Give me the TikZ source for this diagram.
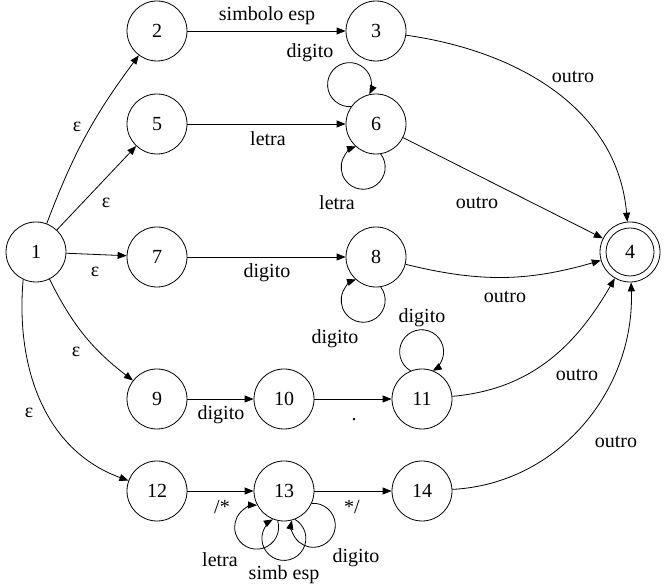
\documentclass[tikz,border=0pt]{standalone}
\usepackage{fontspec}
\setmainfont{Liberation Serif}
\usetikzlibrary{arrows.meta}
\begin{document}
\begin{tikzpicture}[x=1pt,y=1pt,
  st/.style={circle,draw,line width=0.8pt,minimum size=60pt,inner sep=0pt,font=\fontsize{20}{23}\selectfont},
  lbl/.style={inner sep=0pt,font=\fontsize{20}{23}\selectfont},
  tr/.style={-{Triangle[length=9pt,width=7pt]},line width=0.8pt}]
\useasboundingbox (0,0) rectangle (667,585);
% states
\node[st] (n1) at (36,333) {1};
\node[st] (n2) at (157,554) {2};
\node[st] (n3) at (376,554) {3};
\node[st] (n5) at (157,461) {5};
\node[st] (n6) at (376,461) {6};
\node[st] (n7) at (157,328) {7};
\node[st] (n8) at (376,328) {8};
\node[st] (n4) at (630,333) {4};
\draw[line width=0.8pt] (n4.center) circle[radius=24pt];
\node[st] (n9) at (157,186) {9};
\node[st] (n10) at (284,186) {10};
\node[st] (n11) at (422,186) {11};
\node[st] (n12) at (157,94) {12};
\node[st] (n13) at (284,94) {13};
\node[st] (n14) at (422,94) {14};
% transitions from 1
\draw[tr] (n1) to[bend left=8] (n2);
\draw[tr] (n1) -- (n5);
\draw[tr] (n1) -- (n7);
\draw[tr] (n1) to[bend right=13] (n9);
\draw[tr] (n1.245) to[out=-95,in=160] (n12);
% horizontal transitions
\draw[tr] (n2) -- (n3);
\draw[tr] (n5) -- (n6);
\draw[tr] (n7) -- (n8);
\draw[tr] (n9) -- (n10);
\draw[tr] (n10) -- (n11);
\draw[tr] (n12) -- (n13);
\draw[tr] (n13) -- (n14);
% self loops
\draw[tr] (n6.145) arc[start angle=-86,end angle=-386,radius=22pt];
\draw[tr] (n6.279) arc[start angle=37,end angle=-251,radius=22pt];
\draw[tr] (n8.279) arc[start angle=37,end angle=-251,radius=22pt];
\draw[tr] (n11.112) arc[start angle=240,end angle=-60,radius=22pt];
\draw[tr] (n13.258) arc[start angle=17,end angle=-271,radius=22pt];
\draw[tr] (n13.291) arc[start angle=60,end angle=-240,radius=22pt];
\draw[tr] (n13.336) arc[start angle=94,end angle=-193,radius=22pt];
% transitions to 4
\draw[tr] (n3) to[out=-8,in=95] (n4);
\draw[tr] (n6) -- (n4);
\draw[tr] (n8) to[bend right=15] (n4);
\draw[tr] (n11) to[out=5,in=240] (n4);
\draw[tr] (n14) to[out=3,in=-88] (n4);
% labels
\node[lbl] (l1) at (267,569) {simbolo esp};
\node[lbl] (l2) at (310,532) {digito};
\node[lbl] (l3) at (77,458) {ε};
\node[lbl] (l4) at (268,446) {letra};
\node[lbl] (l5) at (337,382) {letra};
\node[lbl] (l6) at (573,508) {outro};
\node[lbl] (l7) at (477,382) {outro};
\node[lbl] (l8) at (106,382) {ε};
\node[lbl] (l9) at (95,313) {ε};
\node[lbl] (l10) at (267,312) {digito};
\node[lbl] (l11) at (505,288) {outro};
\node[lbl] (l12) at (335,246) {digito};
\node[lbl] (l13) at (422,267) {digito};
\node[lbl] (l14) at (76,233) {ε};
\node[lbl] (l15) at (577,210) {outro};
\node[lbl] (l16) at (29,172) {ε};
\node[lbl] (l17) at (221,170) {digito};
\node[lbl,anchor=base] (l18) at (354,164) {.};
\node[lbl] (l19) at (616,143) {outro};
\node[lbl] (l20) at (222,78) {/*};
\node[lbl] (l21) at (352,78) {*/};
\node[lbl] (l22) at (220,25) {letra};
\node[lbl] (l23) at (284,10) {simb esp};
\node[lbl] (l24) at (356,27) {digito};
\end{tikzpicture}
\end{document}
